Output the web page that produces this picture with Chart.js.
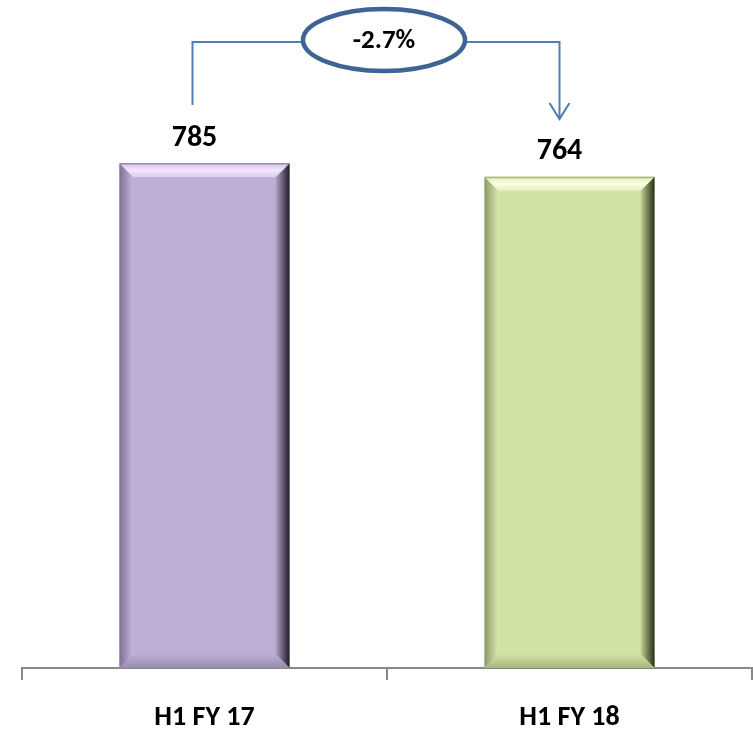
<!DOCTYPE html>
<html><head><meta charset="utf-8">
<style>html,body{margin:0;padding:0;background:#fff;}#wrap{width:753px;height:735px;}</style>
<script src="https://cdn.jsdelivr.net/npm/chart.js@4.4.1/dist/chart.umd.min.js"></script>
</head><body><div id="wrap"><canvas id="c" width="753" height="735"></canvas></div>
<script>
const categories = ["H1 FY 17", "H1 FY 18"];
const values = [785, 764];
const changeLabel = "-2.7%";
const barColors = ["#BDAED3", "#D1E2A5"];
const FONT = "Carlito, Lato, 'Noto Sans', sans-serif";

function bevelPlugin() {
  return {
    id: 'bevel',
    afterDatasetsDraw(chart) {
      const ctx = chart.ctx;
      const meta = chart.getDatasetMeta(0);
      const shades = [
        {top1:'#F3E6FF', top2:'#DCCBEF', left1:'#7E7095', left2:'#C6B8DB', right1:'#B3A4C8', right2:'#1F1A28', bot:'#9A8CB0'},
        {top1:'#FBFFE0', top2:'#E4EFC0', left1:'#8A9A68', left2:'#D8E7B0', right1:'#C3D496', right2:'#262E18', bot:'#A6B57E'}
      ];
      meta.data.forEach((bar, i) => {
        const L = bar.x - bar.width/2, R = bar.x + bar.width/2, T = bar.y, B = bar.base;
        const b = 14, s = shades[i];
        ctx.save();
        let g = ctx.createLinearGradient(L,0,L+b,0); g.addColorStop(0,s.left1); g.addColorStop(1,s.left2);
        ctx.fillStyle = g; ctx.beginPath(); ctx.moveTo(L,T); ctx.lineTo(L+b,T+b); ctx.lineTo(L+b,B-b); ctx.lineTo(L,B); ctx.closePath(); ctx.fill();
        g = ctx.createLinearGradient(R-b,0,R,0); g.addColorStop(0,s.right1); g.addColorStop(1,s.right2);
        ctx.fillStyle = g; ctx.beginPath(); ctx.moveTo(R,T); ctx.lineTo(R-b,T+b); ctx.lineTo(R-b,B-b); ctx.lineTo(R,B); ctx.closePath(); ctx.fill();
        g = ctx.createLinearGradient(0,T,0,T+b); g.addColorStop(0,s.left1); g.addColorStop(0.15,s.top2); g.addColorStop(0.5,s.top1); g.addColorStop(1,s.top2);
        ctx.fillStyle = g; ctx.beginPath(); ctx.moveTo(L,T); ctx.lineTo(R,T); ctx.lineTo(R-b,T+b); ctx.lineTo(L+b,T+b); ctx.closePath(); ctx.fill();
        g = ctx.createLinearGradient(0,B-b,0,B); g.addColorStop(0,barColors[i]); g.addColorStop(1,s.bot);
        ctx.fillStyle = g; ctx.beginPath(); ctx.moveTo(L,B); ctx.lineTo(R,B); ctx.lineTo(R-b,B-b); ctx.lineTo(L+b,B-b); ctx.closePath(); ctx.fill();
        ctx.restore();
        ctx.save();
        ctx.font = "bold 30px " + FONT; ctx.fillStyle = '#000'; ctx.textAlign = 'center'; ctx.textBaseline = 'middle';
        ctx.fillText(String(values[i]), bar.x - 10, T - 25);
        ctx.restore();
      });
      const b0 = meta.data[0], b1 = meta.data[1];
      const x0 = b0.x - 12, x1 = b1.x - 10;
      const yTop = 42, cx = (x0 + x1) / 2 + 8, cy = 40, rx = 81, ry = 31;
      ctx.save();
      ctx.strokeStyle = '#4F7DB8'; ctx.lineWidth = 2;
      ctx.beginPath(); ctx.moveTo(x0, 105); ctx.lineTo(x0, yTop); ctx.lineTo(cx - rx, yTop); ctx.stroke();
      ctx.beginPath(); ctx.moveTo(cx + rx, yTop); ctx.lineTo(x1, yTop); ctx.lineTo(x1, 119); ctx.stroke();
      ctx.beginPath(); ctx.moveTo(x1 - 10, 103); ctx.lineTo(x1, 119); ctx.lineTo(x1 + 10, 103); ctx.stroke();
      ctx.strokeStyle = '#3D6494'; ctx.lineWidth = 4.5; ctx.fillStyle = '#fff';
      ctx.beginPath(); ctx.ellipse(cx, cy, rx, ry, 0, 0, Math.PI*2); ctx.fill(); ctx.stroke();
      ctx.font = "bold 27px " + FONT; ctx.fillStyle = '#000'; ctx.textAlign = 'center'; ctx.textBaseline = 'middle';
      ctx.fillText(changeLabel, cx, cy + 1);
      ctx.restore();
    }
  };
}

new Chart(document.getElementById('c'), {
  type: 'bar',
  data: {
    labels: categories,
    datasets: [{ data: values, backgroundColor: barColors, borderWidth: 0, barPercentage: 0.466, categoryPercentage: 1.0 }]
  },
  options: {
    responsive: false, animation: false, devicePixelRatio: 1,
    layout: { padding: { left: 22, right: 1, top: 25, bottom: -21 } },
    plugins: { legend: { display: false }, tooltip: { enabled: false } },
    scales: {
      y: { display: false, min: 0, max: 1000 },
      x: {
        grid: { drawOnChartArea: false, drawTicks: true, tickLength: 12, color: '#888888', lineWidth: 2, offset: true },
        border: { color: '#888888', width: 2 },
        ticks: { color: '#000', font: { family: FONT, size: 28, weight: 'bold', lineHeight: 1 }, padding: 24 }
      }
    }
  },
  plugins: [bevelPlugin()]
});
</script></body></html>
